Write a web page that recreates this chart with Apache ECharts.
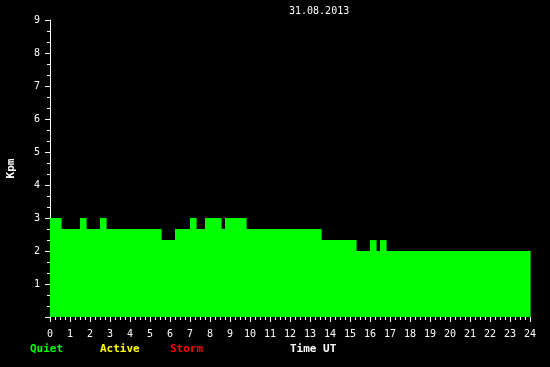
<!DOCTYPE html>
<html>
<head>
<meta charset="utf-8">
<script src="https://cdn.jsdelivr.net/npm/echarts@6/dist/echarts.min.js"></script>
<style>
html,body{margin:0;padding:0;background:#000;}
#chart{width:550px;height:367px;}
</style>
</head>
<body>
<div id="chart"></div>
<script>
// Kp segments: start hour, end hour, value
var segStart = [0, 0.55, 1.5, 1.8, 2.5, 2.8, 5.55, 6.25, 7.0, 7.3, 7.75, 8.55, 8.75, 9.8, 13.55, 15.3, 16.0, 16.3, 16.5, 16.8];
var segEnd   = [0.55, 1.5, 1.8, 2.5, 2.8, 5.55, 6.25, 7.0, 7.3, 7.75, 8.55, 8.75, 9.8, 13.55, 15.3, 16.0, 16.3, 16.5, 16.8, 24];
var kpValues = [3, 2.67, 3, 2.67, 3, 2.67, 2.33, 2.67, 3, 2.67, 3, 2.67, 3, 2.67, 2.33, 2, 2.33, 2, 2.33, 2];
var titleText = '31.08.2013';
var legendLabels = ['Quiet', 'Active', 'Storm'];
var legendColors = ['#00ff00', '#ffff00', '#ff0000'];

var data = segStart.map(function (s, i) { return [s, segEnd[i], kpValues[i]]; });
var font = 'DejaVu Sans Mono';

var chart = echarts.init(document.getElementById('chart'));
var graphics = [];
var legendX = [30, 100, 170];
legendLabels.forEach(function (t, i) {
  graphics.push({type: 'text', left: legendX[i], top: 344, style: {text: t, fill: legendColors[i], font: 'bold 11px "' + font + '"'}});
});
graphics.push({type: 'text', left: 290, top: 344, style: {text: 'Time UT', fill: '#ffffff', font: 'bold 11px "' + font + '"'}});

chart.setOption({
  backgroundColor: '#000000',
  animation: false,
  title: {
    text: titleText, left: 289, top: 6, padding: 0,
    textStyle: {color: '#ffffff', fontFamily: font, fontSize: 10, fontWeight: 'normal'}
  },
  grid: {left: 50, right: 20, top: 20, bottom: 50, containLabel: false, outerBoundsMode: 'none'},
  xAxis: {
    type: 'value', min: 0, max: 24, interval: 1,
    axisLine: {show: false},
    axisTick: {show: true, length: 5, lineStyle: {color: '#ffffff', width: 1}},
    minorTick: {show: true, splitNumber: 4, length: 3, lineStyle: {color: '#ffffff', width: 1}},
    splitLine: {show: false},
    axisLabel: {color: '#ffffff', fontFamily: font, fontSize: 10, margin: 12, showMinLabel: true, showMaxLabel: true}
  },
  yAxis: {
    type: 'value', min: 0, max: 9, interval: 1,
    name: 'Kpm', nameLocation: 'middle', nameGap: 33, nameRotate: 90,
    nameTextStyle: {color: '#ffffff', fontFamily: font, fontSize: 11, fontWeight: 'bold'},
    axisLine: {show: true, lineStyle: {color: '#ffffff', width: 1}},
    axisTick: {show: true, length: 5, lineStyle: {color: '#ffffff', width: 1}},
    minorTick: {show: true, splitNumber: 3, length: 3, lineStyle: {color: '#ffffff', width: 1}},
    splitLine: {show: false},
    axisLabel: {
      color: '#ffffff', fontFamily: font, fontSize: 10, margin: 10,
      formatter: function (v) { return v === 0 ? '' : String(v); }
    }
  },
  series: [{
    type: 'custom',
    encode: {x: [0, 1], y: 2},
    data: data,
    renderItem: function (params, api) {
      var p0 = api.coord([api.value(0), api.value(2)]);
      var p1 = api.coord([api.value(1), 0]);
      return {
        type: 'rect',
        shape: {x: p0[0], y: p0[1], width: p1[0] - p0[0] + 0.6, height: p1[1] - p0[1]},
        style: {fill: '#00ff00'}
      };
    }
  }],
  graphic: graphics
});
</script>
</body>
</html>
